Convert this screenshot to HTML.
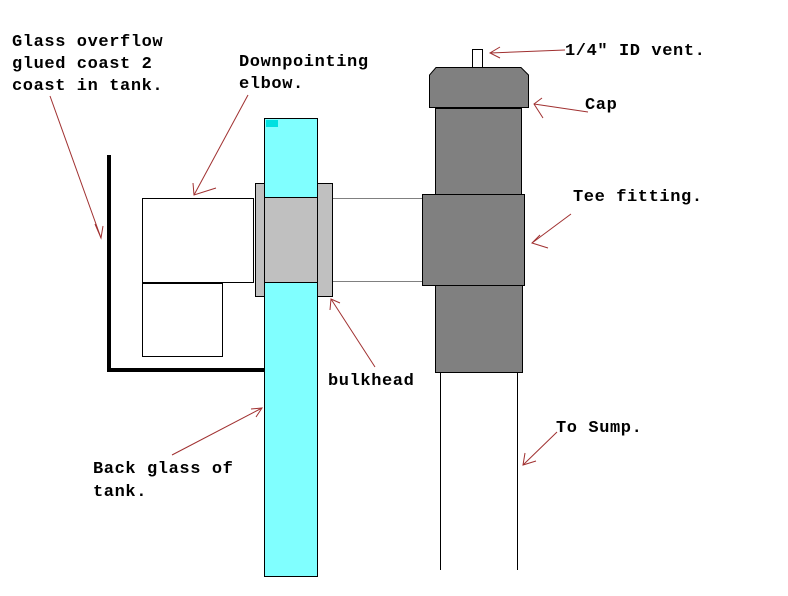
<!DOCTYPE html>
<html><head><style>
html,body{margin:0;padding:0;background:#fff;}
svg text{font-family:"Liberation Mono",monospace;font-weight:bold;font-size:17px;letter-spacing:0.6px;fill:#000;}
</style></head><body>
<svg width="788" height="591" viewBox="0 0 788 591" xmlns="http://www.w3.org/2000/svg">
<rect width="788" height="591" fill="#fff"/>
<rect x="107" y="155" width="4" height="217" fill="#000"/>
<rect x="107" y="368" width="157" height="4" fill="#000"/>
<rect x="142.5" y="198.5" width="111" height="84" fill="#fff" stroke="#000"/>
<rect x="142.5" y="283.5" width="80" height="73" fill="#fff" stroke="#000"/>
<rect x="264.5" y="118.5" width="53" height="458" fill="#80ffff" stroke="#000"/>
<rect x="266" y="120" width="12" height="7" fill="#00e0e0"/>
<rect x="255.5" y="183.5" width="9" height="113" fill="#c0c0c0" stroke="#000"/>
<rect x="317.5" y="183.5" width="15" height="113" fill="#c0c0c0" stroke="#000"/>
<rect x="264.5" y="197.5" width="53" height="85" fill="#c0c0c0" stroke="#000"/>
<line x1="333" y1="198.5" x2="422" y2="198.5" stroke="#808080"/>
<line x1="333" y1="281.5" x2="422" y2="281.5" stroke="#808080"/>
<rect x="435.5" y="108.5" width="86" height="86" fill="#808080" stroke="#000"/>
<rect x="435.5" y="285.5" width="87" height="87" fill="#808080" stroke="#000"/>
<rect x="422.5" y="194.5" width="102" height="91" fill="#808080" stroke="#000"/>
<polygon points="436,67.5 521,67.5 528.5,75 528.5,107.5 429.5,107.5 429.5,75" fill="#808080" stroke="#000"/>
<rect x="472.5" y="49.5" width="10" height="18" fill="#fff" stroke="#000"/>
<line x1="440.5" y1="372" x2="440.5" y2="570" stroke="#000"/>
<line x1="517.5" y1="372" x2="517.5" y2="570" stroke="#000"/>
<g stroke="#a03030" stroke-width="1" fill="none">
<polyline points="50,96 101,238"/><polyline points="95,224 101,238 103,226"/>
<polyline points="248,95 194,195"/><polyline points="193,183 194,195 216,188"/>
<polyline points="565,50 490,53"/><polyline points="500,47 490,53 500,58"/>
<polyline points="588,112 534,104"/><polyline points="542,98 534,104 543,118"/>
<polyline points="571,214 532,243"/><polyline points="540,235 532,243 548,248"/>
<polyline points="375,367 331,299"/><polyline points="330,310 331,299 340,303"/>
<polyline points="172,455 262,408"/><polyline points="251,409 262,408 256,417"/>
<polyline points="557,432 523,465"/><polyline points="525,453 523,465 536,461"/>
</g>
<text x="12" y="46">Glass overflow</text>
<text x="12" y="68">glued coast 2</text>
<text x="12" y="90">coast in tank.</text>
<text x="239" y="66">Downpointing</text>
<text x="239" y="88">elbow.</text>
<text x="565" y="55">1/4" ID vent.</text>
<text x="585" y="109">Cap</text>
<text x="573" y="201">Tee fitting.</text>
<text x="328" y="385">bulkhead</text>
<text x="93" y="473">Back glass of</text>
<text x="93" y="496">tank.</text>
<text x="556" y="432">To Sump.</text>
</svg>
</body></html>
